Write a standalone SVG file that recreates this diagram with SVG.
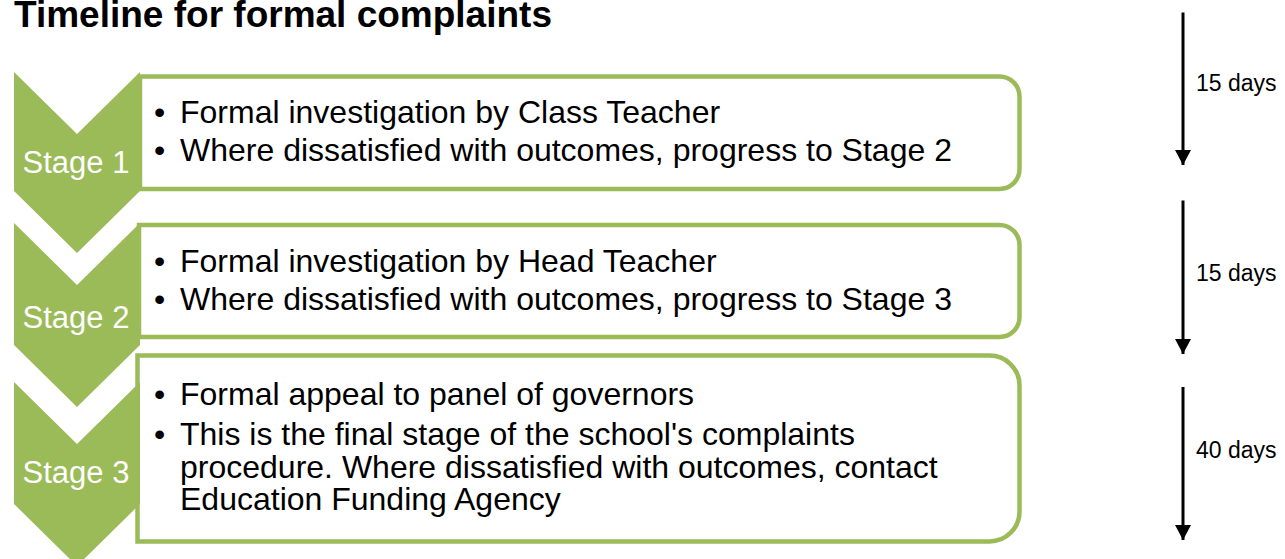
<svg xmlns="http://www.w3.org/2000/svg" width="1285" height="559" viewBox="0 0 1285 559">
<defs>
<style>
.box{fill:#fff;stroke:#9BBB59;stroke-width:4.5}
.chev{fill:#9BBB59}
.stage{font-family:"Liberation Sans",Arial,sans-serif;font-size:31px;fill:#fff;text-anchor:middle}
.body{font-family:"Liberation Sans",Arial,sans-serif;font-size:32px;fill:#000}
.days{font-family:"Liberation Sans",Arial,sans-serif;font-size:23px;fill:#000}
.title{font-family:"Liberation Sans",Arial,sans-serif;font-size:37px;font-weight:bold;fill:#000}
.arr{stroke:#000;stroke-width:3;fill:none}
</style>
<marker id="ah" markerWidth="15" markerHeight="16" refX="15" refY="8" orient="auto" markerUnits="userSpaceOnUse">
<path d="M0,0 L15,8 L0,16 Z" fill="#000"/>
</marker>
</defs>
<rect width="1285" height="559" fill="#fff"/>
<text class="title" x="14" y="27">Timeline for formal complaints</text>

<g id="stage1">
<path class="box" d="M140,76.5 H999.5 A20,20 0 0 1 1019.5,96.5 V169 A20,20 0 0 1 999.5,189 H140 Z"/>
<path class="chev" d="M14,72 L77,134 L140,72 L140,191 L77,253 L14,191 Z"/>
<text class="stage" x="76" y="173">Stage 1</text>
<text class="body" x="154" y="123">•</text>
<text class="body" x="180" y="123">Formal investigation by Class Teacher</text>
<text class="body" x="154" y="161">•</text>
<text class="body" x="180" y="161">Where dissatisfied with outcomes, progress to Stage 2</text>
</g>

<g id="stage2">
<path class="box" d="M139,225 H999.5 A20,20 0 0 1 1019.5,245 V317 A20,20 0 0 1 999.5,337 H139 Z"/>
<path class="chev" d="M14,223 L77,285 L140,223 L140,345 L77,407 L14,345 Z"/>
<text class="stage" x="76" y="328">Stage 2</text>
<text class="body" x="154" y="272">•</text>
<text class="body" x="180" y="272">Formal investigation by Head Teacher</text>
<text class="body" x="154" y="310">•</text>
<text class="body" x="180" y="310">Where dissatisfied with outcomes, progress to Stage 3</text>
</g>

<g id="stage3">
<path class="box" d="M137.5,355.5 H989.5 A30,30 0 0 1 1019.5,385.5 V511.5 A30,30 0 0 1 989.5,541.5 H137.5 Z"/>
<path class="chev" d="M14,382 L77,444 L140,382 L140,504 L77,566 L14,504 Z"/>
<text class="stage" x="76" y="483">Stage 3</text>
<text class="body" x="154" y="405">•</text>
<text class="body" x="180" y="405">Formal appeal to panel of governors</text>
<text class="body" x="154" y="445">•</text>
<text class="body" x="180" y="445">This is the final stage of the school's complaints</text>
<text class="body" x="180" y="477.5">procedure. Where dissatisfied with outcomes, contact</text>
<text class="body" x="180" y="510">Education Funding Agency</text>
</g>

<g id="connectors">
<line class="arr" x1="1183" y1="12.5" x2="1183" y2="165" marker-end="url(#ah)"/>
<line class="arr" x1="1183" y1="200.5" x2="1183" y2="354" marker-end="url(#ah)"/>
<line class="arr" x1="1183" y1="387" x2="1183" y2="540" marker-end="url(#ah)"/>
</g>
<g id="labels">
<text class="days" x="1196" y="91">15 days</text>
<text class="days" x="1196" y="281">15 days</text>
<text class="days" x="1196" y="458">40 days</text>
</g>
</svg>
